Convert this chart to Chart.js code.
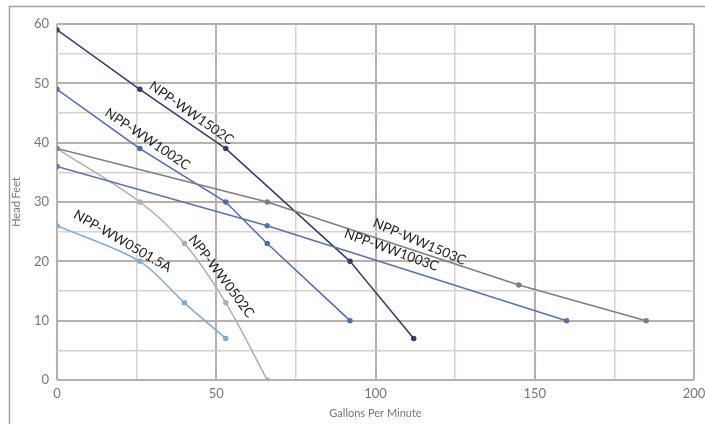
<!DOCTYPE html>
<html>
<head>
<meta charset="utf-8">
<script src="https://cdn.jsdelivr.net/npm/chart.js@4.4.1/dist/chart.umd.min.js"></script>
<style>
  html, body { margin: 0; padding: 0; background: #fff; }
  #wrap { width: 705px; height: 424px; position: relative; }
</style>
</head>
<body>
<div id="wrap"><canvas id="pumpChart"></canvas></div>
<script>
// pump curves: flow (gpm) vs head (ft)
const ww1502cFlow = [0, 26, 53, 92, 112]
const ww1502cHead = [59, 49, 39, 20, 7]
const ww1002cFlow = [0, 26, 53, 66, 92]
const ww1002cHead = [49, 39, 30, 23, 10]
const ww1503cFlow = [0, 66, 145, 185]
const ww1503cHead = [39, 30, 16, 10]
const ww1003cFlow = [0, 66, 160]
const ww1003cHead = [36, 26, 10]
const ww0502cFlow = [0, 26, 40, 53, 66]
const ww0502cHead = [39, 30, 23, 13, 0]
const ww0501Flow = [0, 26, 40, 53]
const ww0501Head = [26, 20, 13, 7]

const xTickLabels = [0, 50, 100, 150, 200]
const yTickLabels = [0, 10, 20, 30, 40, 50, 60]

const pts = (xs, ys) => xs.map((x, i) => ({x: x, y: ys[i]}))

// curve names drawn along the lines
const curveLabels = [
  {text: 'NPP-WW1502C', x: 42.2, y: 45.0, angle: 35},
  {text: 'NPP-WW1002C', x: 28.4, y: 40.6, angle: 34},
  {text: 'NPP-WW0501.5A', x: 20.6, y: 23.4, angle: 30},
  {text: 'NPP-WW0502C', x: 51.6, y: 17.5, angle: 53},
  {text: 'NPP-WW1503C', x: 113.8, y: 23.3, angle: 23},
  {text: 'NPP-WW1003C', x: 105, y: 21.9, angle: 20}
]

const frame = {
  id: 'frame',
  beforeDraw(chart) {
    const c = chart.ctx
    c.save()
    c.strokeStyle = '#a0a0a0'
    c.lineWidth = 1.5
    c.beginPath()
    c.moveTo(9.5, 424)
    c.lineTo(9.5, 6.5)
    c.lineTo(705, 6.5)
    c.stroke()
    c.restore()
  }
}

const lineLabels = {
  id: 'lineLabels',
  afterDatasetsDraw(chart) {
    const c = chart.ctx
    const xs = chart.scales.x, ys = chart.scales.y
    c.save()
    c.font = '13.5px Lato, "DejaVu Sans", sans-serif'
    c.fillStyle = '#1e1e1e'
    c.textAlign = 'center'
    c.textBaseline = 'middle'
    curveLabels.forEach(l => {
      c.save()
      c.translate(xs.getPixelForValue(l.x), ys.getPixelForValue(l.y))
      c.rotate(l.angle * Math.PI / 180)
      c.fillText(l.text, 0, 0)
      c.restore()
    })
    c.restore()
  }
}

function series(label, xs, ys, color, tension) {
  return {
    label: label,
    data: pts(xs, ys),
    borderColor: color,
    backgroundColor: color,
    borderWidth: 1.5,
    pointRadius: 2,
    pointHoverRadius: 2,
    tension: tension || 0
  }
}

const ctx = document.querySelector('#pumpChart')
new Chart(ctx, {
  type: 'line',
  data: {
    datasets: [
      series('NPP-WW1503C', ww1503cFlow, ww1503cHead, '#857c77'),
      series('NPP-WW1003C', ww1003cFlow, ww1003cHead, '#5573ae'),
      series('NPP-WW0502C', ww0502cFlow, ww0502cHead, '#b4aca7', 0.35),
      series('NPP-WW0501.5A', ww0501Flow, ww0501Head, '#7badda', 0.3),
      series('NPP-WW1002C', ww1002cFlow, ww1002cHead, '#4b6db4'),
      series('NPP-WW1502C', ww1502cFlow, ww1502cHead, '#2f3d6e')
    ]
  },
  options: {
    responsive: true,
    maintainAspectRatio: false,
    animation: false,
    layout: { padding: { left: 10, top: 24, right: 11, bottom: 0 } },
    plugins: { legend: { display: false }, tooltip: { enabled: false } },
    scales: {
      x: {
        type: 'linear',
        min: 0,
        max: 200,
        ticks: {
          stepSize: 25,
          autoSkip: false,
          maxRotation: 0,
          padding: 6,
          color: '#777',
          font: { family: 'Lato, sans-serif', size: 13 },
          callback: v => xTickLabels.includes(v) ? String(v) : ''
        },
        grid: {
          drawTicks: false,
          color: c => c.tick && c.tick.value % 50 === 0 ? '#b9b0ac' : '#d8d2ce',
          lineWidth: c => c.tick && c.tick.value % 50 === 0 ? 2 : 1.5
        },
        border: { display: false },
        title: {
          display: true,
          text: 'Gallons Per Minute',
          color: '#777',
          font: { family: 'Lato, sans-serif', size: 11 },
          padding: { top: 2, bottom: 4 }
        },
        afterFit: s => { s.height = 44; s.paddingRight = 0; s.paddingLeft = 0 }
      },
      y: {
        min: 0,
        max: 60,
        ticks: {
          stepSize: 5,
          autoSkip: false,
          padding: 8,
          color: '#777',
          font: { family: 'Lato, sans-serif', size: 13 },
          callback: v => yTickLabels.includes(v) ? String(v) : ''
        },
        grid: {
          drawTicks: false,
          color: c => c.tick && c.tick.value % 10 === 0 ? '#b9b0ac' : '#d8d2ce',
          lineWidth: c => c.tick && c.tick.value % 10 === 0 ? 2 : 1.5
        },
        border: { display: false },
        title: {
          display: true,
          text: 'Head Feet',
          color: '#777',
          font: { family: 'Lato, sans-serif', size: 11 },
          padding: { top: 0, bottom: 4 }
        },
        afterFit: s => { s.width = 47; s.paddingTop = 0; s.paddingBottom = 0 }
      }
    }
  },
  plugins: [frame, lineLabels]
})
</script>
</body>
</html>
